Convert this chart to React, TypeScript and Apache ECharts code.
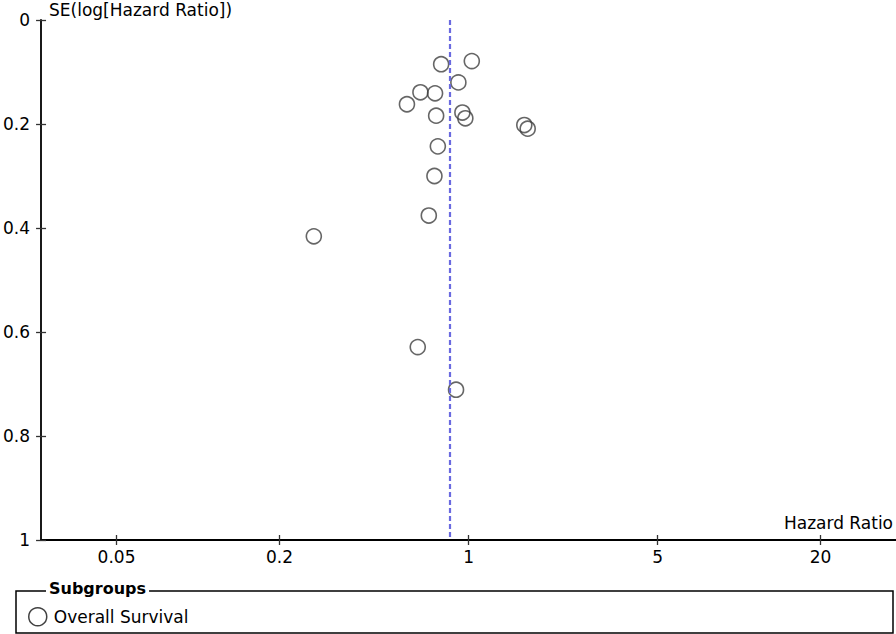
import React, { useEffect, useRef } from "react";
import * as echarts from "echarts";

// Study estimates
const hazardRatios = [0.792, 1.028, 0.917, 0.664, 0.752, 0.592, 0.759, 0.949, 0.973, 1.607, 1.654, 0.77, 0.748, 0.713, 0.268, 0.649, 0.899];
const seValues = [0.085, 0.079, 0.12, 0.139, 0.141, 0.162, 0.184, 0.178, 0.189, 0.202, 0.209, 0.243, 0.3, 0.376, 0.416, 0.629, 0.711];
const pooledHR = 0.86;
const xTickLabels = [0.05, 0.2, 1, 5, 20];
const xRange = [0.0263, 38.0];
const yRange = [0, 1];
const seriesName = "Overall Survival";

const FONT = "DejaVu Sans";

export default function App() {
  const ref = useRef<HTMLDivElement>(null);
  useEffect(() => {
    if (!ref.current) return;
    const chart = echarts.init(ref.current, null, { renderer: "svg" });
    const lg = (v: number) => Math.log10(v);
    const xMin = lg(xRange[0]);
    const xMax = lg(xRange[1]);
    const tickVals = xTickLabels.map(lg);
    const fmtX = (v: number) => {
      const r = Math.pow(10, v);
      return String(Math.round(r * 1000) / 1000);
    };
    const data = hazardRatios.map((hr, i) => [lg(hr), seValues[i]]);
    const axisLineStyle = () => ({ color: "#000", width: 1.8 });
    const tickStyle = () => ({ color: "#333", width: 1.3 });
    const labelStyle = () => ({ color: "#000", fontFamily: FONT, fontSize: 17 });

    chart.setOption({
      animation: false,
      grid: { left: 40, top: 20, right: 0, bottom: 94 },
      xAxis: [
        {
          type: "value",
          min: xMin,
          max: xMax,
          splitLine: { show: false },
          axisLine: { show: true, onZero: false, lineStyle: axisLineStyle() },
          axisTick: { show: true, length: 5, customValues: tickVals.slice(), lineStyle: tickStyle() },
          axisLabel: { show: true, customValues: tickVals.slice(), formatter: fmtX, margin: 8, ...labelStyle() },
        },
        {
          type: "value",
          position: "bottom",
          min: xMin,
          max: xMax,
          splitLine: { show: false },
          axisLine: { show: false, onZero: false },
          axisTick: { show: true, inside: true, length: 5, customValues: tickVals.slice(), lineStyle: tickStyle() },
          axisLabel: { show: false },
        },
      ],
      yAxis: [
        {
          type: "value",
          inverse: true,
          min: yRange[0],
          max: yRange[1],
          interval: 0.2,
          splitLine: { show: false },
          axisLine: { show: true, onZero: false, lineStyle: axisLineStyle() },
          axisTick: { show: true, length: 5, lineStyle: tickStyle() },
          axisLabel: { show: true, margin: 11, ...labelStyle() },
        },
        {
          type: "value",
          position: "left",
          inverse: true,
          min: yRange[0],
          max: yRange[1],
          interval: 0.2,
          splitLine: { show: false },
          axisLine: { show: false, onZero: false },
          axisTick: { show: true, inside: true, length: 5, lineStyle: tickStyle() },
          axisLabel: { show: false },
        },
      ],
      legend: {
        left: 23,
        top: 602,
        itemWidth: 18,
        itemHeight: 18,
        data: [
          {
            name: seriesName,
            icon: "circle",
            itemStyle: { color: "#fff", borderColor: "#111", borderWidth: 1.5 },
          },
        ],
        textStyle: { color: "#000", fontFamily: FONT, fontSize: 17, padding: [0, 0, 0, 2] },
        selectedMode: false,
      },
      graphic: [
        {
          type: "text",
          left: 49,
          top: 1,
          style: { text: "SE(log[Hazard Ratio])", fill: "#000", font: `17px "${FONT}"` },
        },
        {
          type: "text",
          right: 3,
          top: 514,
          style: { text: "Hazard Ratio", fill: "#000", font: `17px "${FONT}"` },
        },
        {
          type: "rect",
          shape: { x: 16, y: 591, width: 877, height: 42 },
          style: { fill: "none", stroke: "#000", lineWidth: 1.5 },
        },
        {
          type: "text",
          x: 46,
          y: 580,
          style: {
            text: "Subgroups",
            fill: "#000",
            font: `bold 16px "${FONT}"`,
            backgroundColor: "#fff",
            padding: [0, 3, 0, 3],
          },
        },
      ],
      series: [
        {
          name: seriesName,
          type: "scatter",
          xAxisIndex: 0,
          yAxisIndex: 0,
          data,
          symbol: "circle",
          symbolSize: 15,
          itemStyle: { color: "rgba(0,0,0,0)", borderColor: "#404040", borderWidth: 1.6 },
          markLine: {
            silent: true,
            symbol: "none",
            label: { show: false },
            lineStyle: { color: "#6a6ae0", width: 2.2, type: [5, 3] },
            data: [{ xAxis: lg(pooledHR) }],
          },
        },
      ],
    });
    return () => chart.dispose();
  }, []);
  return (
    <div
      ref={ref}
      style={{ position: "fixed", left: 0, top: 0, width: 896, height: 634, background: "#fff" }}
    />
  );
}
